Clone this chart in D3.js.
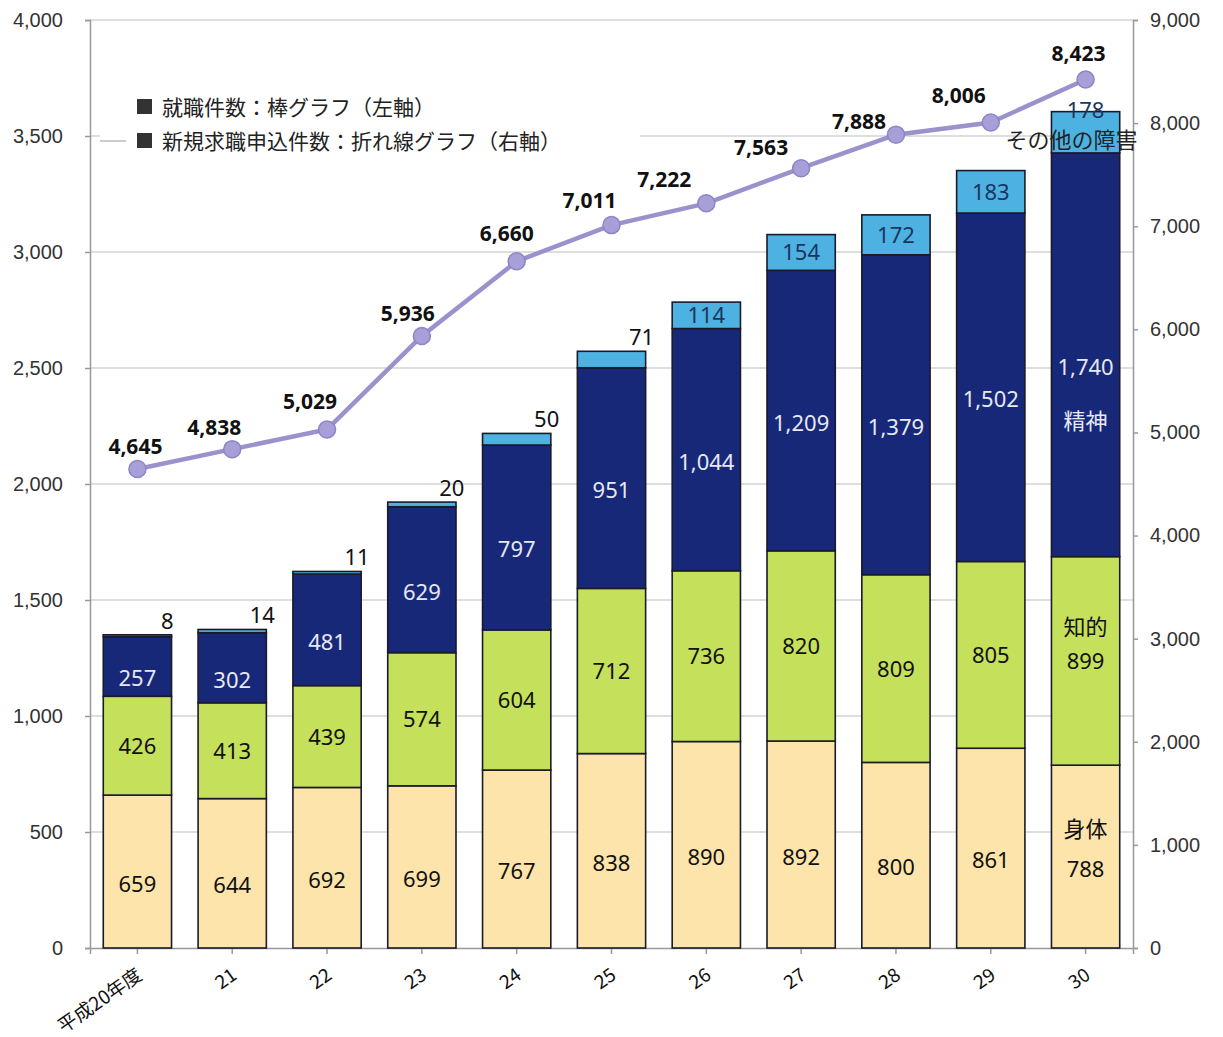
<!DOCTYPE html>
<html>
<head>
<meta charset="utf-8">
<script src="https://cdn.jsdelivr.net/npm/d3@7"></script>
<style>
  body { margin: 0; background: #fff; }
  svg { font-family: "Noto Sans", "Noto Sans CJK JP", sans-serif; }
  .jp { font-family: "Noto Sans CJK JP", sans-serif; }
</style>
</head>
<body>
<svg id="chart" width="1223" height="1037"></svg>
<script>
var years = ["平成20年度", "21", "22", "23", "24", "25", "26", "27", "28", "29", "30"];
var body = [659, 644, 692, 699, 767, 838, 890, 892, 800, 861, 788];        // 身体
var intellect = [426, 413, 439, 574, 604, 712, 736, 820, 809, 805, 899];   // 知的
var mental = [257, 302, 481, 629, 797, 951, 1044, 1209, 1379, 1502, 1740]; // 精神
var other = [8, 14, 11, 20, 50, 71, 114, 154, 172, 183, 178];              // その他の障害
var applications = [4645, 4838, 5029, 5936, 6660, 7011, 7222, 7563, 7888, 8006, 8423];
var leftTicks = [0, 500, 1000, 1500, 2000, 2500, 3000, 3500, 4000];
var rightTicks = [0, 1000, 2000, 3000, 4000, 5000, 6000, 7000, 8000, 9000];

var svg = d3.select("#chart"),
    margin = {top: 20, right: 90, bottom: 89, left: 90},
    width = +svg.attr("width"),
    height = +svg.attr("height");

var x = d3.scaleBand()
    .domain(years)
    .range([margin.left, width - margin.right])
    .paddingInner(0.28)
    .paddingOuter(0.14);

var y = d3.scaleLinear().domain([0, 4000]).range([height - margin.bottom, margin.top]);
var y2 = d3.scaleLinear().domain([0, 9000]).range([height - margin.bottom, margin.top]);

var fmt = d3.format(",");

// gridlines
svg.append("g").selectAll("line")
    .data(leftTicks.slice(1))
    .enter().append("line")
    .attr("x1", margin.left).attr("x2", width - margin.right)
    .attr("y1", d => y(d)).attr("y2", d => y(d))
    .style("stroke", "#bdbdbd").style("stroke-width", 1.2);

// axes
var ga = svg.append("g")
    .attr("transform", "translate(" + margin.left + ",0)")
    .call(d3.axisLeft(y).tickValues(leftTicks).tickFormat(fmt).tickSize(5).tickPadding(22));
ga.selectAll("text").style("font-size", "20px").style("fill", "#333");

var gr = svg.append("g")
    .attr("transform", "translate(" + (width - margin.right) + ",0)")
    .call(d3.axisRight(y2).tickValues(rightTicks).tickFormat(fmt).tickSize(5).tickPadding(12));
gr.selectAll("text").style("font-size", "20px").style("fill", "#333");

var gb = svg.append("g")
    .attr("transform", "translate(0," + y(0) + ")")
    .call(d3.axisBottom(x).tickSize(6).tickFormat(""));
[ga, gr, gb].forEach(g => {
    g.selectAll("path, line").style("stroke", "#999").style("stroke-width", 1.5);
});

// legend box
var legend = svg.append("g").attr("class", "jp");
legend.append("rect")
    .attr("x", 100).attr("y", 88).attr("width", 540).attr("height", 70)
    .style("fill", "#fff");
var legendItems = ["就職件数：棒グラフ（左軸）", "新規求職申込件数：折れ線グラフ（右軸）"];
legendItems.forEach(function(t, i) {
    legend.append("rect")
        .attr("x", 137).attr("y", 99 + i * 34).attr("width", 15).attr("height", 15)
        .style("fill", "#333");
    legend.append("text")
        .attr("x", 162).attr("y", 115 + i * 34)
        .style("font-size", "21px").style("fill", "#222")
        .text(t);
});
legend.append("line")
    .attr("x1", 100).attr("x2", 126).attr("y1", 141).attr("y2", 141)
    .style("stroke", "#bbb").style("stroke-width", 1.5);

// stacked bars
var keys = ["body", "intellect", "mental", "other"];
var colors = {body: "#fde4aa", intellect: "#c5e05a", mental: "#182878", other: "#4db2e2"};
var labelColors = {body: "#111", intellect: "#111", mental: "#e6e8f2", other: "#1c3560"};
var labelShift = {body: 20, intellect: 8, mental: 20, other: 8};
var table = years.map((yr, i) => ({year: yr, body: body[i], intellect: intellect[i], mental: mental[i], other: other[i]}));
var series = d3.stack().keys(keys)(table);

var layers = svg.append("g").selectAll("g")
    .data(series)
    .enter().append("g")
    .style("fill", d => colors[d.key]);

layers.selectAll("rect")
    .data(d => d)
    .enter().append("rect")
    .attr("x", d => x(d.data.year))
    .attr("width", x.bandwidth())
    .attr("y", d => y(d[1]))
    .attr("height", d => y(d[0]) - y(d[1]))
    .style("stroke", "#1a1a2a")
    .style("stroke-width", 1.6);

// segment labels
series.forEach(function(s) {
    svg.append("g").selectAll("text")
        .data(s)
        .enter().append("text")
        .attr("x", function(d) {
            var v = d[1] - d[0];
            if (s.key === "other" && v < 100) return x(d.data.year) + x.bandwidth() / 2 + 30;
            return x(d.data.year) + x.bandwidth() / 2;
        })
        .attr("y", function(d, i) {
            var v = d[1] - d[0];
            if (s.key === "other" && v < 100) return y(d[1]) - 6;
            if (s.key === "other" && i === s.length - 1) return y(d[1]) + 6;
            return (y(d[0]) + y(d[1])) / 2 + labelShift[s.key];
        })
        .attr("text-anchor", "middle")
        .style("font-size", "22px")
        .style("fill", function(d) {
            var v = d[1] - d[0];
            if (s.key === "other" && v < 100) return "#111";
            return labelColors[s.key];
        })
        .text(d => fmt(d[1] - d[0]));
});

// category names beside last bar
var last = series.map(s => s[s.length - 1]);
var lx = x(years[years.length - 1]) + x.bandwidth() / 2;
var names = [
    {text: "身体", y: (y(last[0][0]) + y(last[0][1])) / 2 - 20, color: "#111"},
    {text: "知的", y: (y(last[1][0]) + y(last[1][1])) / 2 - 26, color: "#111"},
    {text: "精神", y: (y(last[2][0]) + y(last[2][1])) / 2 + 74, color: "#e6e8f2"},
    {text: "その他の障害", y: y(last[3][1]) + 36, color: "#222"}
];
svg.append("g").attr("class", "jp").selectAll("text")
    .data(names)
    .enter().append("text")
    .attr("x", (d, i) => i === 3 ? lx - 14 : lx)
    .attr("y", d => d.y)
    .attr("text-anchor", "middle")
    .style("font-size", "22px")
    .style("fill", d => d.color)
    .text(d => d.text);

// line series
var cx = (d, i) => x(years[i]) + x.bandwidth() / 2;
var line = d3.line()
    .x(cx)
    .y(d => y2(d));

svg.append("path")
    .datum(applications)
    .attr("d", line)
    .style("fill", "none")
    .style("stroke", "#9a92cc")
    .style("stroke-width", 4.5);

svg.append("g").selectAll("circle")
    .data(applications)
    .enter().append("circle")
    .attr("cx", cx)
    .attr("cy", d => y2(d))
    .attr("r", 8.5)
    .style("fill", "#a79fd8")
    .style("stroke", "#8d85c4")
    .style("stroke-width", 1.5);

// value label nudges (left of point, as in the original)
var valueDx = [-2, -18, -17, -14, -10, -22, -42, -40, -37, -32, -7];
var valueDy = [-15, -14, -20, -15, -20, -17, -16, -13, -6, -19, -18];
svg.append("g").selectAll("text")
    .data(applications)
    .enter().append("text")
    .attr("x", (d, i) => cx(d, i) + valueDx[i])
    .attr("y", (d, i) => y2(d) + valueDy[i])
    .attr("text-anchor", "middle")
    .style("font-size", "21px")
    .style("font-weight", "bold")
    .style("fill", "#111")
    .text(d => fmt(d));

// x labels
svg.append("g").attr("class", "jp").selectAll("text")
    .data(years)
    .enter().append("text")
    .attr("transform", d => "translate(" + (x(d) + x.bandwidth() / 2 + 6) + "," + (y(0) + 30) + ") rotate(-35)")
    .attr("text-anchor", "end")
    .style("font-size", "19px")
    .style("fill", "#111")
    .text(d => d);
</script>
</body>
</html>
